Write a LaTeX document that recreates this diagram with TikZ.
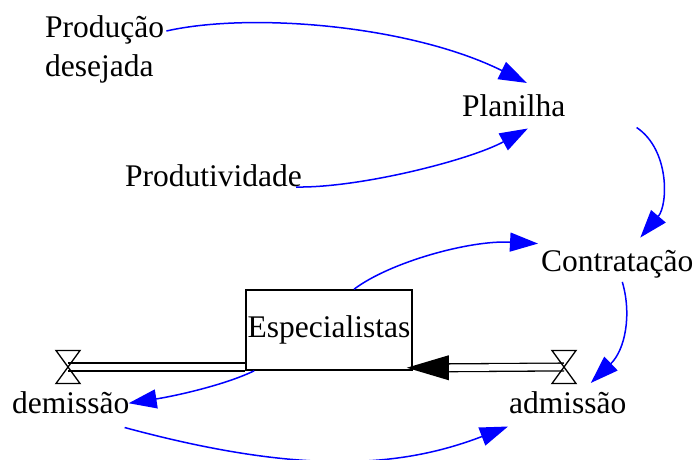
\documentclass[tikz,border=0pt]{standalone}
\usepackage{fontspec}
\setmainfont{Liberation Serif}
\usetikzlibrary{arrows.meta,calc}
\tikzset{
  txt/.style={inner sep=0pt, font=\fontsize{31.5}{39}\selectfont},
  link/.style={draw=blue, line width=1.5pt, -{Triangle[length=28pt,width=19pt]}},
  stock/.style={draw, line width=1.5pt, minimum width=166pt, minimum height=80pt, inner sep=0pt},
  pipe/.style={double, double distance=6.5pt, line width=1.3pt},
  valve/.pic={\draw[line width=1.3pt] (-12,-16.5) -- (12,-16.5) -- (-12,16.5) -- (12,16.5) -- cycle;}
}
\begin{document}
\begin{tikzpicture}[x=1pt,y=-1pt]
\useasboundingbox (0,0) rectangle (698,459);
% text nodes
\node[txt, anchor=north west, align=left] (prod) at (45,15) {Produção\\desejada};
\node[txt, anchor=base west] (plan) at (462,116) {Planilha};
\node[txt, anchor=base west] (prodt) at (125,186) {Produtividade};
\node[txt, anchor=base west] (contr) at (541,271) {Contratação};
\node[txt, anchor=base west] (dem) at (12,413) {demissão};
\node[txt, anchor=base west] (adm) at (509,413) {admissão};
% valves
\coordinate (vL) at (68,367);
\coordinate (vR) at (564,367);
% stock position (for pipes)
\path (329,330) node[stock, txt, draw=none] (espb) {\phantom{Especialistas}};
\coordinate (tip) at ([shift={(-6,-3)}]espb.south east);
% pipes
\draw[pipe] (vL) -- (vL -| espb.west);
\draw[pipe] (vR) -- ([xshift=42]tip);
\pic at (vL) {valve};
\pic at (vR) {valve};
% stock
\node[stock, txt, fill=white] (esp) at (329,330) {Especialistas};
\fill (tip) -- ++(42,-12.5) -- ++(0,25) -- cycle;
% links
\draw[link] ([shift={(2,16)}]prod.north east) .. controls (250,12) and (410,25) .. ([shift={(13,-11)}]plan.north);
\draw[link] ([shift={(-6,1)}]prodt.base east) .. controls (360,188) and (470,160) .. ([shift={(14,12)}]plan.south);
\draw[link] ([shift={(71,11)}]plan.south east) .. controls (670,150) and (668,205) .. ([shift={(23,-12)}]contr.north);
\draw[link] ([xshift=25]esp.north) .. controls (390,262) and (470,240) .. ([shift={(-3,-6)}]contr.north west);
\draw[link] ([shift={(5,4)}]contr.south) .. controls (632,315) and (625,350) .. ([shift={(23,-8)}]adm.north);
\draw[link] ([xshift=9]esp.south west) .. controls (225,385) and (175,396) .. ([shift={(-1,1)}]dem.east);
\draw[link] ([shift={(-5,14)}]dem.south east) .. controls (300,475) and (400,468) .. ([shift={(-1,13)}]adm.south west);
\end{tikzpicture}
\end{document}
